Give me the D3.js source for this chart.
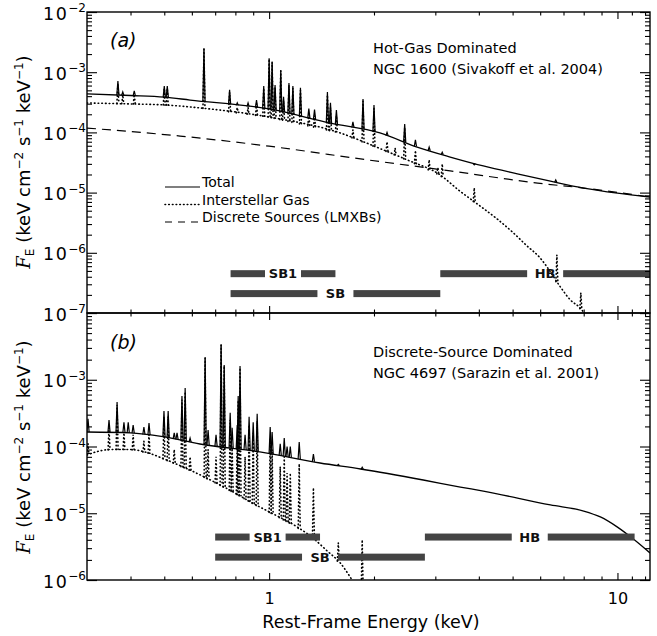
<!DOCTYPE html>
<html><head><meta charset="utf-8">
<script src="https://cdn.jsdelivr.net/npm/d3@7"></script>
<style>
body{margin:0;background:#fff}
text{font-family:"DejaVu Sans",sans-serif;fill:#000}
</style>
</head><body>
<svg id="c" width="657" height="636"></svg>
<script>
// ---------- DATA ----------
// Panel (a): NGC 1600
const totalContA = [[0.30,4.35e-4],[0.40,4.1e-4],[0.50,3.86e-4],[0.593,3.45e-4],[1.0,2.45e-4],[1.5,1.43e-4],[2.08,9.8e-5],[2.66,5.7e-5],[3.31,3.9e-5],[4.12,2.77e-5],[5.16,2.05e-5],[6.42,1.55e-5],[8.0,1.19e-5],[10,9.8e-6],[12.4,8.45e-6]];
const totalLinesA = [[0.368,7.1e-4],[0.38,4.7e-4],[0.41,4.9e-4],[0.50,5.9e-4],[0.51,5.9e-4],[0.65,2.5e-3],[0.77,5.1e-4],[0.81,3.1e-4],[0.87,3.1e-4],[0.92,3.45e-4],[0.965,5.9e-4],[1.00,1.7e-3],[1.02,1.5e-3],[1.04,6.1e-4],[1.08,1.09e-3],[1.10,3.9e-4],[1.14,6.6e-4],[1.17,5.9e-4],[1.23,5.5e-4],[1.30,2.5e-4],[1.35,2.4e-4],[1.47,4.7e-4],[1.50,3.1e-4],[1.56,2.36e-4],[1.74,1.5e-4],[1.86,3.6e-4],[2.00,2.85e-4],[2.18,1.0e-4],[2.45,1.38e-4],[2.63,7.5e-5],[2.88,5.7e-5],[3.14,4.7e-5],[3.88,2.9e-5],[6.65,1.62e-5]];
const gasContA = [[0.30,3.08e-4],[0.40,2.97e-4],[0.50,2.86e-4],[0.633,2.55e-4],[1.0,1.8e-4],[1.6,9.8e-5],[2.08,5.4e-5],[2.49,3.5e-5],[3.1,1.96e-5],[3.5,1.1e-5],[4.0,6.2e-6],[4.5,3.7e-6],[5.0,2.2e-6],[5.5,1.3e-6],[6.0,8.2e-7],[6.28,5.8e-7],[6.86,2.7e-7],[7.33,1.64e-7],[7.82,1.21e-7],[8.1,9.3e-8]];
const gasLinesA = [[0.368,6.5e-4],[0.38,4.2e-4],[0.41,4.3e-4],[0.50,5.4e-4],[0.51,5.4e-4],[0.65,2.4e-3],[0.77,4.6e-4],[0.81,2.6e-4],[0.87,2.6e-4],[0.92,3.0e-4],[0.965,5.4e-4],[1.00,1.65e-3],[1.02,1.45e-3],[1.04,5.6e-4],[1.08,1.05e-3],[1.10,3.4e-4],[1.14,6.1e-4],[1.17,5.4e-4],[1.23,5.0e-4],[1.30,2.0e-4],[1.35,1.9e-4],[1.47,4.2e-4],[1.50,2.6e-4],[1.56,1.9e-4],[1.74,1.1e-4],[1.86,3.3e-4],[2.00,2.5e-4],[2.18,7e-5],[2.30,5.5e-5],[2.45,1.2e-4],[2.63,5e-5],[2.88,3.5e-5],[3.05,2.6e-5],[3.14,3.0e-5],[3.88,1.2e-5],[6.70,9.2e-7],[7.85,2.15e-7]];
const lmxbA = [[0.30,1.18e-4],[0.555,8.7e-5],[1.0,5.9e-5],[1.91,3.5e-5],[3.31,2.29e-5],[5.9,1.44e-5],[8.0,1.19e-5],[12.4,8.45e-6]];
const bandsA = [{label:"SB1",lo:0.775,hi:1.55,level:4.5e-7},{label:"SB",lo:0.775,hi:3.1,level:2.1e-7},{label:"HB",lo:3.1,hi:12.4,level:4.5e-7}];

// Panel (b): NGC 4697
const totalContB = [[0.30,1.65e-4],[0.40,1.6e-4],[0.50,1.39e-4],[0.633,1.09e-4],[0.94,8.3e-5],[1.4,5.66e-5],[1.83,4.6e-5],[2.77,3.15e-5],[3.54,2.47e-5],[4.12,2.15e-5],[6.42,1.33e-5],[8.0,1.08e-5],[8.93,8.8e-6],[10,6.2e-6],[11.2,3.97e-6],[12.4,2.54e-6]];
const totalLinesB = [[0.302,2.6e-4],[0.347,2.5e-4],[0.366,4.65e-4],[0.383,2.3e-4],[0.394,2.3e-4],[0.407,2.1e-4],[0.437,1.95e-4],[0.452,2.25e-4],[0.499,3.4e-4],[0.513,3.4e-4],[0.534,1.6e-4],[0.544,1.6e-4],[0.562,5.7e-4],[0.574,7.5e-4],[0.593,1.34e-4],[0.655,2.2e-3],[0.668,1.77e-4],[0.704,1.5e-4],[0.728,3.4e-3],[0.743,1.66e-3],[0.773,3.2e-4],[0.783,1.9e-4],[0.81,2.1e-4],[0.815,5.7e-4],[0.825,1.6e-3],[0.853,1.5e-4],[0.876,2.8e-4],[0.90,2.3e-4],[0.924,3.1e-4],[1.007,1.95e-4],[1.02,1.65e-4],[1.076,1.1e-4],[1.105,1.34e-4],[1.126,1.0e-4],[1.15,1.0e-4],[1.22,1.17e-4],[1.34,7.7e-5],[1.58,5.4e-5],[1.85,4.9e-5]];
const gasContB = [[0.30,7.5e-5],[0.35,9.0e-5],[0.40,9.0e-5],[0.45,8.0e-5],[0.50,6.5e-5],[0.60,4.3e-5],[0.70,2.9e-5],[0.80,2.0e-5],[0.90,1.4e-5],[1.0,1.05e-5],[1.2,6.3e-6],[1.34,4.2e-6],[1.47,2.7e-6],[1.6,1.8e-6],[1.71,1.1e-6],[1.8,7e-7]];
const gasLinesB = [[0.302,1.1e-4],[0.347,1.9e-4],[0.366,4.2e-4],[0.383,1.6e-4],[0.407,1.5e-4],[0.437,1.2e-4],[0.452,1.5e-4],[0.499,2.8e-4],[0.513,2.8e-4],[0.534,9e-5],[0.562,5.0e-4],[0.574,6.6e-4],[0.593,7e-5],[0.655,2.1e-3],[0.668,9e-5],[0.704,7e-5],[0.728,3.3e-3],[0.743,1.6e-3],[0.773,2.5e-4],[0.783,1.0e-4],[0.81,1.2e-4],[0.815,4.9e-4],[0.825,1.5e-3],[0.853,7e-5],[0.876,2.1e-4],[0.90,1.6e-4],[0.924,2.4e-4],[1.007,1.3e-4],[1.02,9e-5],[1.076,5e-5],[1.105,7e-5],[1.126,4e-5],[1.15,4e-5],[1.22,5.5e-5],[1.34,2.4e-5],[1.58,3.6e-6],[1.85,4.0e-6]];
const bandsB = [{label:"SB1",lo:0.70,hi:1.40,level:4.4e-6},{label:"SB",lo:0.70,hi:2.8,level:2.2e-6},{label:"HB",lo:2.8,hi:11.2,level:4.4e-6}];

// Axis ticks and labels
const xMajor = [1,10];
const xMinor = [0.4,0.5,0.6,0.7,0.8,0.9,2,3,4,5,6,7,8,9,11,12];
const xLabels = ["1","10"];
const yDecadesA = [1e-2,1e-3,1e-4,1e-5,1e-6,1e-7];
const yLabelsA = ["−2","−3","−4","−5","−6","−7"];
const yDecadesB = [1e-3,1e-4,1e-5,1e-6];
const yLabelsB = ["−3","−4","−5","−6"];
const legendItems = ["Total","Interstellar Gas","Discrete Sources (LMXBs)"];
const noteA = ["Hot-Gas Dominated","NGC 1600 (Sivakoff et al. 2004)"];
const noteB = ["Discrete-Source Dominated","NGC 4697 (Sarazin et al. 2001)"];

// ---------- DRAWING ----------
const svg = d3.select("#c");
const L = 87, R = 650;
const x = d3.scaleLog().domain([0.3,12.4]).range([L,R]);
const yA = d3.scaleLog().domain([1e-7,1e-2]).range([313,12]);
const yB = d3.scaleLog().domain([1e-6,1e-2]).range([580,313]);

const DOT = {dash:"0.6,3.1", w:1.6};
const DASH = "9,6";

function contAt(cont, e){
  const le = Math.log(e);
  for (let i=0;i<cont.length-1;i++){
    const [e0,f0]=cont[i],[e1,f1]=cont[i+1];
    if (e>=e0 && e<=e1){
      const t=(le-Math.log(e0))/(Math.log(e1)-Math.log(e0));
      return Math.exp(Math.log(f0)+t*(Math.log(f1)-Math.log(f0)));
    }
  }
  return e<cont[0][0]?cont[0][1]:cont[cont.length-1][1];
}

function yTickVals(y){
  const [lo,hi]=y.domain(); const out=[];
  for (let p=Math.round(Math.log10(lo)); p<Math.round(Math.log10(hi)); p++)
    for (let k=2;k<=9;k++) out.push(k*Math.pow(10,p));
  return out;
}

function panel(cfg){
  const {y, top, bottom, id} = cfg;
  const g = svg.append("g");
  const clipId = "clip"+id;
  svg.append("clipPath").attr("id",clipId).append("rect")
    .attr("x",L).attr("y",top).attr("width",R-L).attr("height",bottom-top);
  const pg = g.append("g").attr("clip-path",`url(#${clipId})`);
  const line = d3.line().x(d=>x(d[0])).y(d=>y(d[1])).curve(d3.curveMonotoneX);

  // gas (dotted)
  pg.append("path").attr("d",line(cfg.gasCont)).attr("fill","none").attr("stroke","#000")
    .attr("stroke-width",DOT.w).attr("stroke-dasharray",DOT.dash).attr("stroke-linecap","round");
  pg.selectAll(".gl").data(cfg.gasLines).join("path")
    .attr("d",d=>{const xp=x(d[0]), yb=y(contAt(cfg.gasCont,d[0])), yp=y(d[1]);
      return `M${xp-1},${yb}L${xp},${yp}L${xp+1},${yb}`;})
    .attr("fill","none").attr("stroke","#000").attr("stroke-width",DOT.w)
    .attr("stroke-dasharray",DOT.dash).attr("stroke-linecap","round");

  // LMXB (dashed)
  if (cfg.lmxb) pg.append("path").attr("d",line(cfg.lmxb)).attr("fill","none").attr("stroke","#000")
    .attr("stroke-width",1.2).attr("stroke-dasharray",DASH);

  // total (solid)
  pg.append("path").attr("d",line(cfg.totalCont)).attr("fill","none").attr("stroke","#000").attr("stroke-width",1.3);
  pg.selectAll(".tl").data(cfg.totalLines).join("path")
    .attr("d",d=>{const xp=x(d[0]), yb=y(contAt(cfg.totalCont,d[0])), yp=y(d[1]);
      return `M${xp-1.1},${yb}L${xp},${yp}L${xp+1.1},${yb}`;})
    .attr("fill","none").attr("stroke","#000").attr("stroke-width",1.2);

  // bands
  const gap = 18;
  cfg.bands.forEach(b=>{
    const x0=x(b.lo), x1=x(b.hi), xc=x(Math.sqrt(b.lo*b.hi)), yc=y(b.level);
    g.append("rect").attr("x",x0).attr("y",yc-3.5).attr("width",xc-gap-x0).attr("height",7).attr("fill","#444");
    g.append("rect").attr("x",xc+gap).attr("y",yc-3.5).attr("width",x1-xc-gap).attr("height",7).attr("fill","#444");
    g.append("text").attr("x",xc).attr("y",yc+4.8).attr("text-anchor","middle")
      .attr("font-size",13).attr("font-weight","bold").style("fill","#111").text(b.label);
  });

  // axes
  const ax = (gen, tr, vals, size, labels) => {
    const a = g.append("g").attr("transform",tr)
      .call(gen.tickValues(vals).tickSizeInner(size).tickSizeOuter(0).tickFormat(labels||""));
    a.select(".domain").remove();
    a.selectAll("line").attr("stroke","#000").attr("stroke-width",1.1);
    return a;
  };
  const xa = ax(d3.axisBottom(x), `translate(0,${bottom})`, xMajor, -7,
      cfg.xLabels ? (d,i)=>xLabels[i] : null);
  if (cfg.xLabels) xa.selectAll(".tick text").attr("font-size",16).attr("font-family","DejaVu Sans")
      .attr("fill","#000").attr("y",13);
  ax(d3.axisBottom(x), `translate(0,${bottom})`, xMinor, -3.5);
  ax(d3.axisTop(x), `translate(0,${top})`, xMajor, -7);
  ax(d3.axisTop(x), `translate(0,${top})`, xMinor, -3.5);
  ax(d3.axisLeft(y), `translate(${L},0)`, cfg.yDecades.concat([y.domain()[1], y.domain()[0]]), -10);
  ax(d3.axisLeft(y), `translate(${L},0)`, yTickVals(y), -5);
  ax(d3.axisRight(y), `translate(${R},0)`, cfg.yDecades.concat([y.domain()[1], y.domain()[0]]), -10);
  ax(d3.axisRight(y), `translate(${R},0)`, yTickVals(y), -5);

  // y labels with superscripts
  cfg.yDecades.forEach((v,i)=>{
    const t = g.append("text").attr("x",L-1).attr("y",y(v)+7.5).attr("text-anchor","end");
    t.append("tspan").attr("font-size",17.5).attr("letter-spacing",1.5).text("10");
    t.append("tspan").attr("font-size",12).attr("dy",-7.5).text(cfg.yLabels[i]);
  });

  // frame
  g.append("rect").attr("x",L).attr("y",top).attr("width",R-L).attr("height",bottom-top)
    .attr("fill","none").attr("stroke","#000").attr("stroke-width",1.4);

  // y title
  const yt = g.append("text").attr("transform",`translate(30,${cfg.titleY}) rotate(-90)`)
    .attr("text-anchor","middle").attr("font-size",18);
  yt.append("tspan").attr("font-style","italic").attr("font-family","DejaVu Serif").text("F");
  yt.append("tspan").attr("font-size",12).attr("dy",4).text("E");
  yt.append("tspan").attr("dy",-4).text(" (keV cm");
  yt.append("tspan").attr("font-size",12).attr("dy",-7).text("−2");
  yt.append("tspan").attr("dy",7).text(" s");
  yt.append("tspan").attr("font-size",12).attr("dy",-7).text("−1");
  yt.append("tspan").attr("dy",7).text(" keV");
  yt.append("tspan").attr("font-size",12).attr("dy",-7).text("−1");
  yt.append("tspan").attr("dy",7).text(")");

  // panel label
  g.append("text").attr("x",110).attr("y",cfg.labelY).attr("font-size",19)
    .attr("font-family","DejaVu Serif").attr("font-style","italic").text(cfg.label);

  // note
  cfg.note.forEach((s,i)=>{
    g.append("text").attr("x",373).attr("y",cfg.noteY+i*20.5).attr("font-size",14.5).text(s);
  });
  return g;
}

panel({id:"a", y:yA, top:12, bottom:313, totalCont:totalContA, totalLines:totalLinesA,
  gasCont:gasContA, gasLines:gasLinesA, lmxb:lmxbA, bands:bandsA,
  yDecades:yDecadesA, yLabels:yLabelsA, xLabels:false, titleY:162, label:"(a)", labelY:47,
  note:noteA, noteY:53});
panel({id:"b", y:yB, top:313, bottom:580, totalCont:totalContB, totalLines:totalLinesB,
  gasCont:gasContB, gasLines:gasLinesB, lmxb:null, bands:bandsB,
  yDecades:yDecadesB, yLabels:yLabelsB, xLabels:true, titleY:447, label:"(b)", labelY:349,
  note:noteB, noteY:357});

// legend (panel a)
const lg = svg.append("g");
const legY = [187, 204.5, 222];
const legStyle = [null, "dot", "dash"];
legendItems.forEach((s,i)=>{
  const ln = lg.append("line").attr("x1",165).attr("x2",200).attr("y1",legY[i]).attr("y2",legY[i])
    .attr("stroke","#000").attr("stroke-width", legStyle[i]==="dot"?DOT.w:1.2);
  if (legStyle[i]==="dot") ln.attr("stroke-dasharray",DOT.dash).attr("stroke-linecap","round");
  if (legStyle[i]==="dash") ln.attr("stroke-dasharray","7,6");
  lg.append("text").attr("x",202).attr("y",legY[i]).attr("font-size",14).text(s);
});

// x-axis title
svg.append("text").attr("x",371).attr("y",628).attr("text-anchor","middle").attr("font-size",17.5)
  .text("Rest-Frame Energy (keV)");
</script>
</body></html>
